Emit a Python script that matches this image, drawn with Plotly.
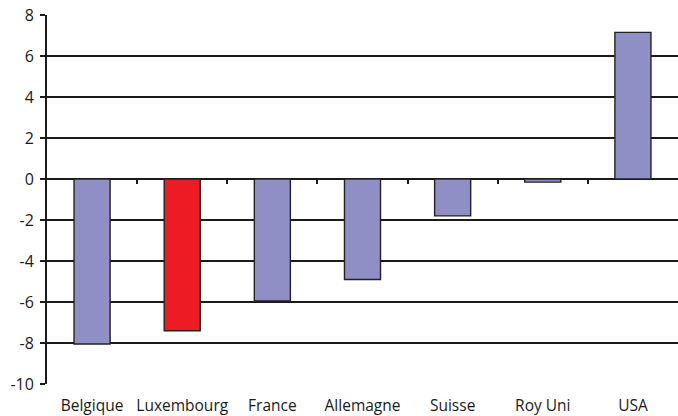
import plotly.graph_objects as go

countries = ["Belgique", "Luxembourg", "France", "Allemagne", "Suisse", "Roy Uni", "USA"]
values = [-8.05, -7.4, -5.95, -4.9, -1.8, -0.15, 7.15]
highlight = "Luxembourg"
y_ticks = [8, 6, 4, 2, 0, -2, -4, -6, -8, -10]
y_tick_labels = ["8", "6", "4", "2", "0", "-2", "-4", "-6", "-8", "-10"]

positions = list(range(len(countries)))
bar_colors = ["#ED1C24" if c == highlight else "#8F8FC5" for c in countries]
boundaries = [p + 0.5 for p in positions[:-1]]
x_range = [-0.5, len(countries) - 0.5]
ink = "#1a1a1a"

fig = go.Figure()
fig.add_trace(go.Bar(
    x=positions, y=values, width=0.4,
    marker=dict(color=bar_colors, line=dict(color="#222222", width=1.4)),
    showlegend=False, hoverinfo="x+y",
))
# invisible trace that carries the axis drawn along the zero line
fig.add_trace(go.Scatter(x=positions, y=[0] * len(positions), xaxis="x2", mode="markers",
                         marker=dict(opacity=0), showlegend=False, hoverinfo="skip"))

fig.update_layout(
    width=678, height=416,
    margin=dict(l=47, r=0, t=15, b=32),
    paper_bgcolor="white", plot_bgcolor="white",
    font=dict(family="Open Sans, Noto Sans, sans-serif", size=16, color=ink),
    xaxis=dict(
        range=x_range,
        tickmode="array", tickvals=positions, ticktext=countries,
        showgrid=False, zeroline=False, ticks="",
        showline=False, tickfont=dict(size=15.5),
        ticklabelstandoff=10,
    ),
    xaxis2=dict(
        range=x_range, overlaying="x", anchor="free",
        position=(0 - min(y_ticks)) / (max(y_ticks) - min(y_ticks)),
        side="bottom",
        tickmode="array", tickvals=boundaries, ticks="outside",
        ticklen=4, tickwidth=1.5, tickcolor=ink,
        showticklabels=False, showgrid=False, zeroline=False, showline=False,
    ),
    yaxis=dict(
        range=[min(y_ticks), max(y_ticks)],
        tickmode="array", tickvals=y_ticks, ticktext=y_tick_labels,
        showgrid=True, gridcolor=ink, gridwidth=1.6,
        zeroline=True, zerolinecolor=ink, zerolinewidth=1.8,
        showline=True, linecolor=ink, linewidth=1.8,
        ticks="outside", ticklen=5, tickwidth=1.5, tickcolor=ink,
        ticklabelstandoff=3, tickfont=dict(size=16),
    ),
)

fig.write_html("out.html")
